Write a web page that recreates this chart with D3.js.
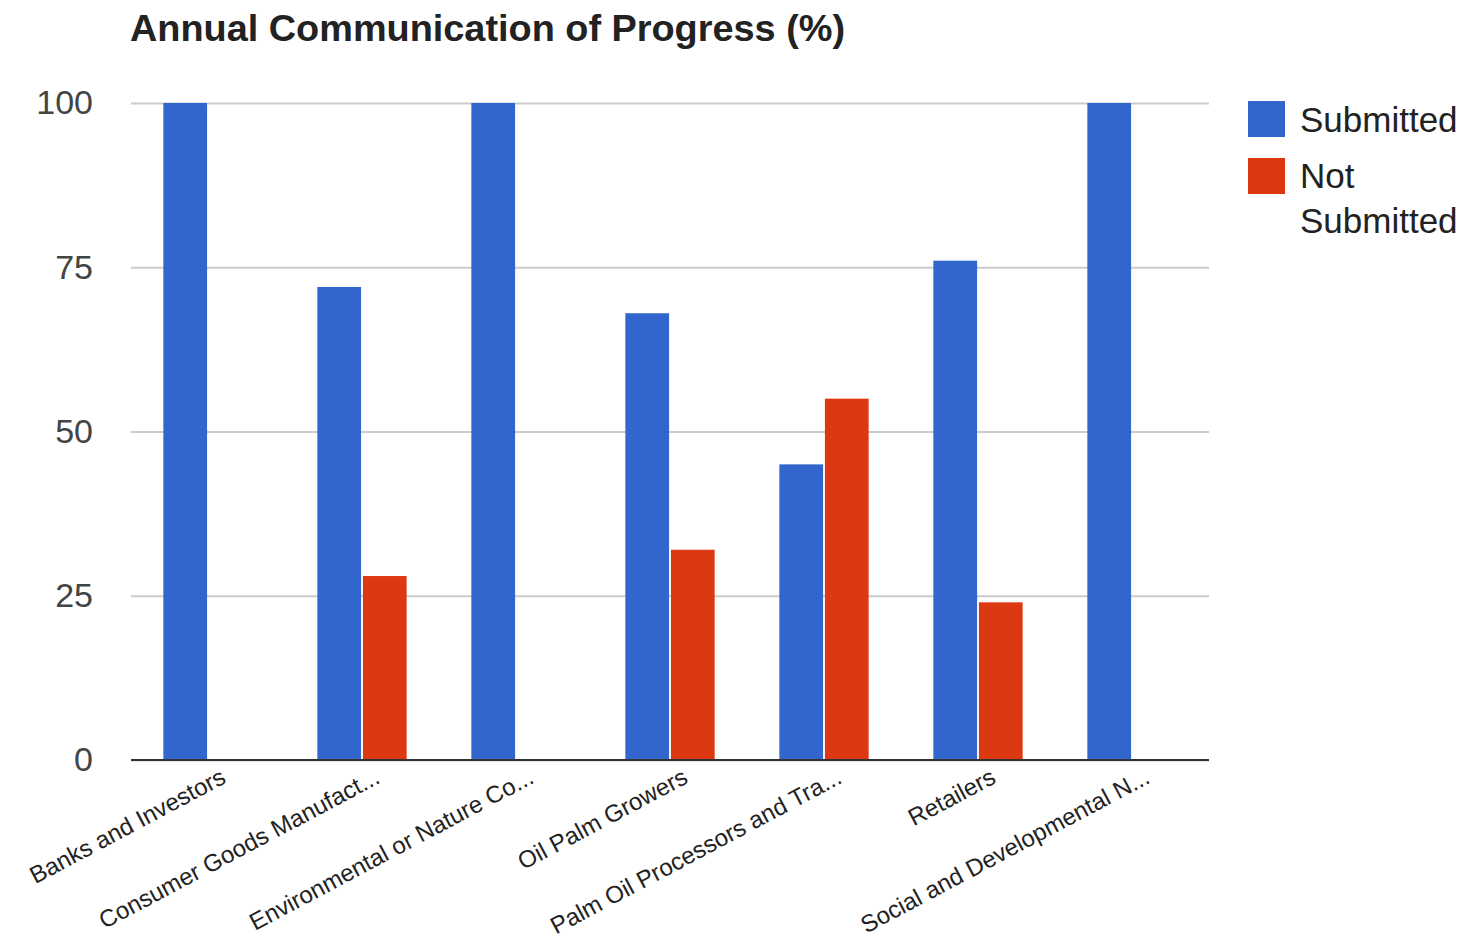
<!DOCTYPE html>
<html>
<head>
<meta charset="utf-8">
<script src="https://cdn.jsdelivr.net/npm/d3@7"></script>
<style>
  body { margin: 0; background: #fff; }
  svg { font-family: "Liberation Sans", Arial, sans-serif; }
</style>
</head>
<body>
<svg id="chart" width="1481" height="946"></svg>
<script>
// Data
var categories = ["Banks and Investors", "Consumer Goods Manufact...", "Environmental or Nature Co...",
  "Oil Palm Growers", "Palm Oil Processors and Tra...", "Retailers", "Social and Developmental N..."];
var seriesNames = ["Submitted", "Not Submitted"];
var submitted = [100, 72, 100, 68, 45, 76, 100];
var notSubmitted = [0, 28, 0, 32, 55, 24, 0];
var yTicks = [0, 25, 50, 75, 100];
var colors = ["#3366cc", "#dc3912"];

var svg = d3.select("#chart");
var margin = {top: 103, left: 131, right: 272, bottom: 186};
var width = 1481 - margin.left - margin.right,
    height = 946 - margin.top - margin.bottom;

var g = svg.append("g").attr("transform", "translate(" + margin.left + "," + margin.top + ")");

//Scales
var x0 = d3.scaleBand().domain(categories).range([0, width]).paddingInner(0.42).paddingOuter(0.21);
var x1 = d3.scaleBand().domain(seriesNames).range([0, x0.bandwidth()]).paddingInner(0.04);
var y = d3.scaleLinear().domain([0, 100]).range([height, 0]);

//Title
svg.append("text")
   .attr("x", 130).attr("y", 41)
   .attr("font-size", 37).attr("font-weight", "bold").attr("fill", "#222")
   .attr("textLength", 715).attr("lengthAdjust", "spacingAndGlyphs")
   .text("Annual Communication of Progress (%)");

//Gridlines
g.append("g")
 .call(d3.axisLeft(y).tickValues(yTicks).tickSize(-width).tickFormat(""))
 .call(function(a) { a.select(".domain").remove(); })
 .selectAll("line").attr("stroke", "#cccccc").attr("stroke-width", 2);

//Y tick labels
g.append("g")
 .call(d3.axisLeft(y).tickValues(yTicks).tickSize(0).tickPadding(38))
 .call(function(a) { a.select(".domain").remove(); })
 .selectAll("text").attr("font-size", 34).attr("fill", "#444").attr("font-family", "Liberation Sans, Arial, sans-serif");

//Bars
var rows = categories.map(function(c, i) { return {cat: c, vals: [submitted[i], notSubmitted[i]]}; });
var groups = g.selectAll(".grp").data(rows).enter().append("g")
  .attr("transform", function(d) { return "translate(" + x0(d.cat) + ",0)"; });
groups.selectAll("rect").data(function(d) { return d.vals.map(function(v, k) { return {s: seriesNames[k], v: v, k: k}; }); })
  .enter().append("rect")
  .attr("x", function(d) { return x1(d.s); })
  .attr("width", x1.bandwidth())
  .attr("y", function(d) { return y(d.v); })
  .attr("height", function(d) { return height - y(d.v); })
  .attr("fill", function(d) { return colors[d.k]; });

//Baseline
g.append("line").attr("x1", 0).attr("x2", width).attr("y1", height).attr("y2", height)
 .attr("stroke", "#333").attr("stroke-width", 2);

//X labels, rotated
g.append("g").attr("transform", "translate(0," + height + ")")
 .call(d3.axisBottom(x0).tickSize(0))
 .call(function(a) { a.select(".domain").remove(); })
 .selectAll("text")
 .attr("font-size", 24).attr("fill", "#222").attr("font-family", "Liberation Sans, Arial, sans-serif")
 .attr("text-anchor", "end")
 .attr("transform", "translate(14,12) rotate(-28)")
 .attr("dy", "0.35em");

//Legend
var legend = svg.append("g").attr("transform", "translate(1248,101)");
legend.append("rect").attr("width", 37).attr("height", 36).attr("fill", colors[0]);
legend.append("text").attr("x", 52).attr("y", 31).attr("font-size", 35).attr("fill", "#222").text("Submitted");
legend.append("rect").attr("y", 57).attr("width", 37).attr("height", 36).attr("fill", colors[1]);
legend.append("text").attr("x", 52).attr("y", 87).attr("font-size", 35).attr("fill", "#222").text("Not");
legend.append("text").attr("x", 52).attr("y", 132).attr("font-size", 35).attr("fill", "#222").text("Submitted");
</script>
</body>
</html>
